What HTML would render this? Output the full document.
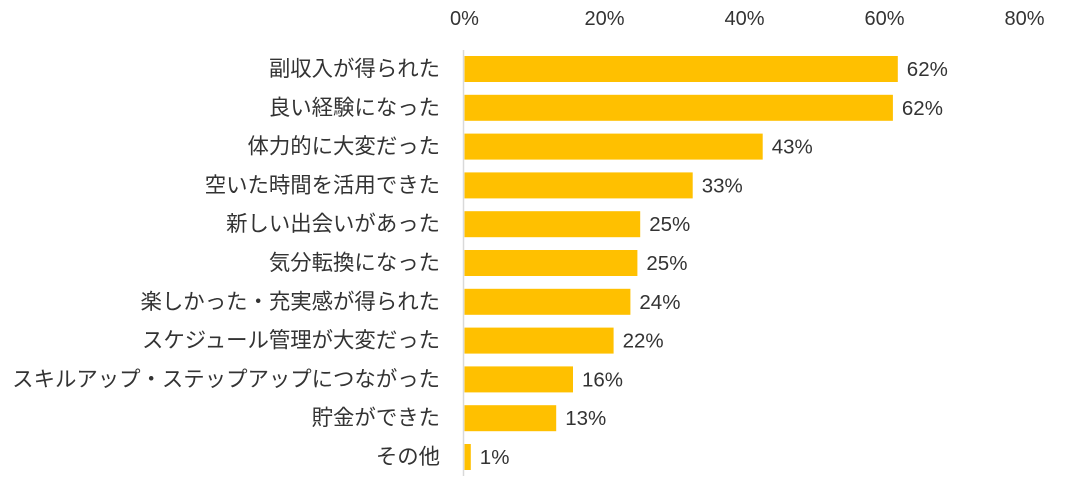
<!DOCTYPE html>
<html><head><meta charset="utf-8"><style>
body{margin:0;background:#fff;width:1069px;height:489px;overflow:hidden}
svg text{font-family:"Liberation Sans","Noto Sans CJK JP",sans-serif;fill:#333}
</style></head><body>
<svg id="chart" width="1069" height="489" xmlns="http://www.w3.org/2000/svg"></svg>
<script>
const categories=["副収入が得られた","良い経験になった","体力的に大変だった","空いた時間を活用できた","新しい出会いがあった","気分転換になった","楽しかった・充実感が得られた","スケジュール管理が大変だった","スキルアップ・ステップアップにつながった","貯金ができた","その他"];
const values=[61.9,61.2,42.6,32.6,25.1,24.7,23.7,21.3,15.5,13.1,0.9];
const valueLabels=["62%","62%","43%","33%","25%","25%","24%","22%","16%","13%","1%"];
const ticks=[0,20,40,60,80];
const tickLabels=["0%","20%","40%","60%","80%"];
const svg=document.getElementById('chart');
const NS='http://www.w3.org/2000/svg';
const x=v=>464.5+v*7;
const y=i=>56+i*38.8;
const bh=26;
function mk(t,a){const e=document.createElementNS(NS,t);for(const k in a)e.setAttribute(k,a[k]);svg.appendChild(e);return e;}
ticks.forEach((t,i)=>{
  const e=mk('text',{x:x(t),y:25,'text-anchor':'middle','font-size':20});
  e.textContent=tickLabels[i];
  
  
});
const ax=mk('line',{x1:463.5,x2:463.5,y1:50,y2:476,stroke:'#d9d9d9','stroke-width':1.5});


categories.forEach((c,i)=>{
  const r=mk('rect',{x:x(0),y:y(i),width:x(values[i])-x(0),height:bh,fill:'#FFC000'});
  
  
  const l=mk('text',{x:440,y:y(i)+bh/2+7,'text-anchor':'end','font-size':21.4});
  l.textContent=c;
  
  
  const v=mk('text',{x:x(values[i])+9,y:y(i)+bh/2+7,'font-size':20.5});
  v.textContent=valueLabels[i];
  
  
});
</script>
</body></html>
